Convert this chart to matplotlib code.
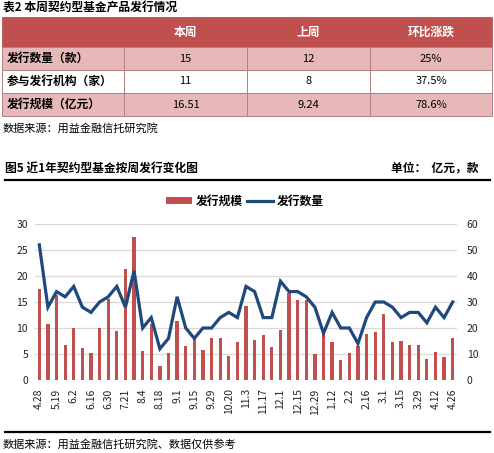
import matplotlib
matplotlib.use("Agg")
import matplotlib.pyplot as plt
from matplotlib.patches import Rectangle
from matplotlib.lines import Line2D
import numpy as np

plt.rcParams['font.family'] = ['Noto Sans CJK SC', 'DejaVu Sans']

# ---------------- data ----------------
table_title = "表2 本周契约型基金产品发行情况"
table_header = ["", "本周", "上周", "环比涨跌"]
table_rows = [
    ["发行数量（款）", "15", "12", "25%"],
    ["参与发行机构（家）", "11", "8", "37.5%"],
    ["发行规模（亿元）", "16.51", "9.24", "78.6%"],
]
table_source = "数据来源：用益金融信托研究院"

chart_title = "图5 近1年契约型基金按周发行变化图"
chart_unit = "单位：  亿元，款"
chart_source = "数据来源：用益金融信托研究院、数据仅供参考"

weeks = ["4.28", "5.12", "5.19", "5.26", "6.2", "6.9", "6.16", "6.23", "6.30", "7.14",
         "7.21", "7.28", "8.4", "8.11", "8.18", "8.25", "9.1", "9.8", "9.15", "9.22",
         "9.29", "10.13", "10.20", "10.27", "11.3", "11.10", "11.17", "11.24", "12.1", "12.8",
         "12.15", "12.22", "12.29", "1.5", "1.12", "1.19", "2.2", "2.9", "2.16", "2.23",
         "3.1", "3.8", "3.15", "3.22", "3.29", "4.5", "4.12", "4.19", "4.26"]

scale = [17.5, 10.8, 16.3, 6.7, 10.0, 6.2, 5.2, 10.0, 15.5, 9.4,
         21.3, 27.5, 5.6, 10.8, 2.6, 5.2, 11.4, 6.5, 8.0, 5.8,
         8.1, 8.1, 4.6, 7.3, 14.2, 7.7, 8.7, 6.3, 9.6, 16.8,
         15.3, 15.4, 5.0, 8.8, 7.3, 3.8, 5.2, 6.5, 8.8, 9.2,
         12.6, 7.3, 7.5, 6.7, 6.7, 4.0, 5.4, 4.4, 8.1]

count = [52, 28, 34, 32, 36, 28, 26, 30, 32, 36,
         28, 42, 20, 24, 12, 16, 32, 20, 16, 20,
         20, 24, 26, 24, 36, 34, 24, 24, 38, 34,
         34, 32, 28, 18, 26, 20, 20, 14, 24, 30,
         30, 28, 24, 26, 26, 22, 28, 24, 30]

left_ticks = [0, 5, 10, 15, 20, 25, 30]
right_ticks = [0, 10, 20, 30, 40, 50, 60]

# ---------------- figure ----------------
W, H = 494, 453
fig = plt.figure(figsize=(W / 100, H / 100), dpi=100)
fig.patch.set_facecolor("white")

def fx(x):
    return x / W

def fy(y):
    return 1 - y / H

RED = "#C0504D"
PINK = "#E6B9B8"
NAVY = "#1F497D"

# table title
fig.text(fx(3), fy(8), table_title, fontsize=8.5, fontweight="bold",
         ha="left", va="center")

col_edges = [2, 124, 247, 370, 492]
row_edges = [17, 47, 70, 93, 116]
row_colors = [RED, PINK, "white", PINK]

for r in range(4):
    y0, y1 = row_edges[r], row_edges[r + 1]
    for c in range(4):
        x0, x1 = col_edges[c], col_edges[c + 1]
        if r == 0:
            rect = Rectangle((fx(x0), fy(y1)), fx(x1) - fx(x0), fy(y0) - fy(y1),
                             transform=fig.transFigure, facecolor=RED,
                             edgecolor=RED, lw=0.6)
        else:
            rect = Rectangle((fx(x0), fy(y1)), fx(x1) - fx(x0), fy(y0) - fy(y1),
                             transform=fig.transFigure, facecolor=row_colors[r],
                             edgecolor="#B5807F", lw=0.7)
        fig.add_artist(rect)
        yc = (y0 + y1) / 2
        if r == 0:
            txt = table_header[c]
            if txt:
                fig.text(fx((x0 + x1) / 2), fy(yc), txt, fontsize=8.5,
                         fontweight="bold", color="white", ha="center", va="center")
        else:
            txt = table_rows[r - 1][c]
            if c == 0:
                fig.text(fx(x0 + 5), fy(yc), txt, fontsize=8.5, fontweight="bold",
                         ha="left", va="center")
            else:
                fig.text(fx((x0 + x1) / 2), fy(yc), txt, fontsize=8,
                         ha="center", va="center")

fig.text(fx(3), fy(128), table_source, fontsize=8, ha="left", va="center")

# chart title
fig.text(fx(5), fy(168), chart_title, fontsize=8.5, fontweight="bold",
         ha="left", va="center")
fig.text(fx(478), fy(168), chart_unit, fontsize=8.5, fontweight="bold",
         ha="right", va="center")
fig.add_artist(Line2D([fx(5), fx(490)], [fy(180), fy(180)], color="black", lw=1.6,
                      transform=fig.transFigure))
fig.add_artist(Line2D([fx(5), fx(490)], [fy(432), fy(432)], color="black", lw=1.6,
                      transform=fig.transFigure))
fig.text(fx(3), fy(444), chart_source, fontsize=8, ha="left", va="center")

# chart axes
ax = fig.add_axes([fx(35), fy(380), fx(457) - fx(35), fy(224) - fy(380)])
ax2 = ax.twinx()
x = np.arange(len(weeks))
bars = ax.bar(x, scale, width=0.38, color=RED, zorder=2, label="发行规模")
ln, = ax2.plot(x, count, color=NAVY, lw=2.3, zorder=3, label="发行数量",
               solid_joinstyle="miter")

ax.set_xlim(-0.5, len(weeks) - 0.5)
ax.set_ylim(0, 30)
ax2.set_ylim(0, 60)
ax.set_yticks(left_ticks)
ax2.set_yticks(right_ticks)
ax.yaxis.grid(True, color="#D9D9D9", lw=0.9, zorder=0)
ax.set_axisbelow(True)
for a in (ax, ax2):
    for s in a.spines.values():
        s.set_visible(False)
    a.tick_params(length=0, labelsize=7.5, colors="#222222")
ax.tick_params(axis="y", pad=5)
ax2.tick_params(axis="y", pad=7)
ax.set_xticks(x[::2])
ax.set_xticklabels(weeks[::2], rotation=90, fontsize=7.5)
ax.tick_params(axis="x", pad=6)

# legend
handles = [bars, ln]
leg = fig.legend(handles, ["发行规模", "发行数量"], loc="center",
                 bbox_to_anchor=(fx(245), fy(201)), ncol=2, frameon=False,
                 prop={"size": 8.5, "weight": "bold"}, handlelength=2.2,
                 handleheight=0.5, columnspacing=0.4, handletextpad=0.3)

fig.savefig("out.png", dpi=100)
